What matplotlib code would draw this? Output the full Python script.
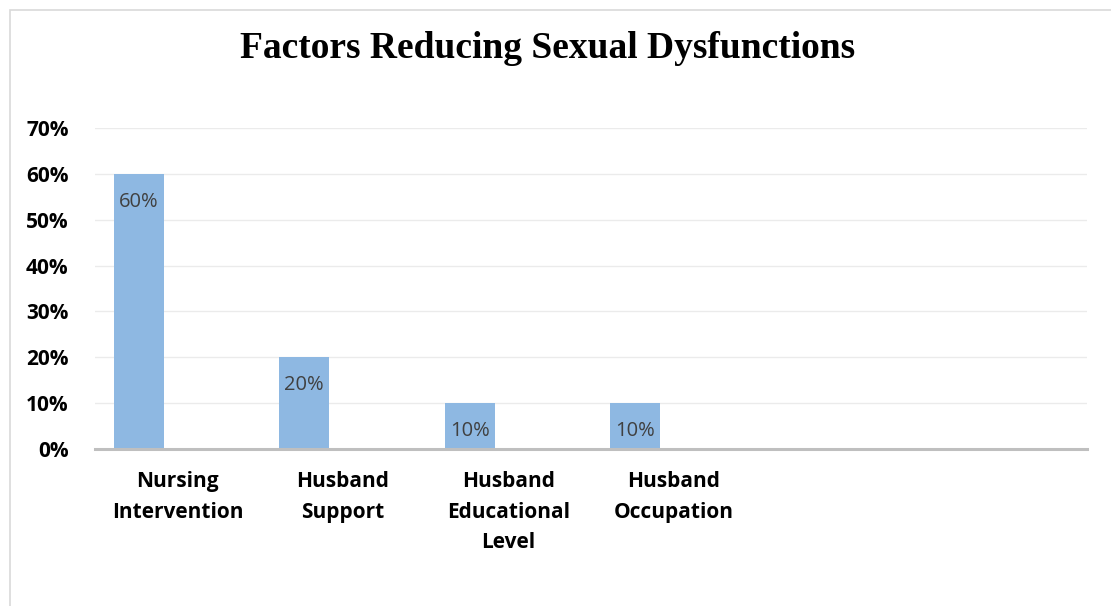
import matplotlib
matplotlib.use("Agg")
import matplotlib.pyplot as plt
from matplotlib.patches import Rectangle

categories = ["Nursing\nIntervention", "Husband\nSupport", "Husband\nEducational\nLevel", "Husband\nOccupation", "", ""]
values = [0.60, 0.20, 0.10, 0.10, None, None]
labels = ["60%", "20%", "10%", "10%", "", ""]
yticks = [0, 0.1, 0.2, 0.3, 0.4, 0.5, 0.6, 0.7]
ytick_labels = ["0%", "10%", "20%", "30%", "40%", "50%", "60%", "70%"]

W, H = 1111, 606
fig = plt.figure(figsize=(W / 100, H / 100), dpi=100)
ax = fig.add_axes([95 / W, 1 - 449 / H, (1087 - 95) / W, (449 - 128) / H])

fig.patches.append(Rectangle((10 / W, -0.05), (W - 4) / W, 1 - 10 / H + 0.05,
                             transform=fig.transFigure, fill=False,
                             edgecolor="#D9D9D9", linewidth=1.2))

xs = list(range(len(categories)))
offset = -0.234
bw = 0.302
for x, v, lab in zip(xs, values, labels):
    if v is None:
        continue
    ax.bar(x + offset, v, width=bw, color="#8EB8E2", zorder=3)
    ax.annotate(lab, (x + offset, v), xytext=(0, -28), textcoords="offset pixels",
                ha="center", va="center", fontsize=14.5, color="#404040",
                family="Open Sans", zorder=4)

ax.set_xlim(-0.5, len(categories) - 0.5)
ax.set_ylim(0, 0.7)
ax.set_yticks(yticks)
ax.set_yticklabels(ytick_labels, fontsize=15, fontweight="bold", family="Open Sans")
ax.set_xticks(xs)
ax.set_xticklabels(categories, fontsize=15, fontweight="bold", family="Open Sans", linespacing=1.6)
ax.tick_params(axis="both", length=0)
ax.tick_params(axis="y", pad=19)
ax.tick_params(axis="x", pad=16)
for lab in ax.get_xticklabels():
    lab.set_verticalalignment("top")

ax.grid(axis="y", color="#EBEBEB", linewidth=1.0, zorder=0)
for s in ["top", "right", "left"]:
    ax.spines[s].set_visible(False)
ax.spines["bottom"].set_color("#BFBFBF")
ax.spines["bottom"].set_linewidth(2.2)
ax.spines["bottom"].set_zorder(5)

fig.text(548 / W, 1 - 49 / H, "Factors Reducing Sexual Dysfunctions", ha="center", va="center",
         fontsize=27, family="Liberation Serif", fontweight="bold")

fig.savefig("out.png", dpi=100)
